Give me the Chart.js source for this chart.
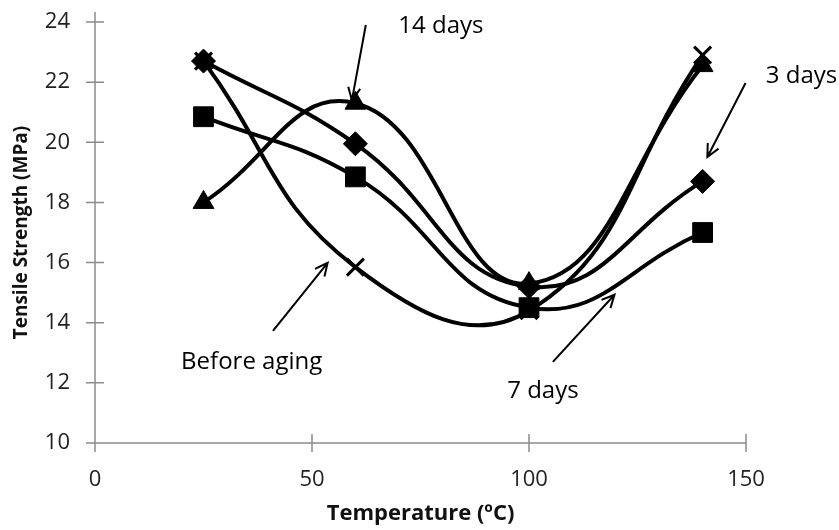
<!DOCTYPE html>
<html>
<head>
<meta charset="utf-8">
<title>Tensile Strength vs Temperature</title>
<script src="https://cdn.jsdelivr.net/npm/chart.js@4.4.1/dist/chart.umd.min.js"></script>
<style>
  html, body { margin: 0; padding: 0; background: #fff; }
  canvas { display: block; }
</style>
</head>
<body>
<canvas id="tensileChart" width="839" height="530"></canvas>
<script>
// Data
const temps = [25, 60, 100, 140];
const beforeAging = [22.7, 15.85, 14.4, 22.9];
const days3 = [22.7, 19.95, 15.2, 18.7];
const days7 = [20.85, 18.85, 14.5, 17.0];
const days14 = [18.0, 21.3, 15.3, 22.55];

const xTicks = [0, 50, 100, 150];
const yTicks = [10, 12, 14, 16, 18, 20, 22, 24];

// Labels with arrows, in data units: [text, textX, textY, fromX, fromY, toX, toY]
const notes = [
  ["14 days", 79.7, 23.63, 62.4, 23.9, 59.2, 21.4],
  ["3 days", 162.8, 21.97, 149.9, 21.97, 141.1, 19.51],
  ["Before aging", 36.1, 12.47, 41.0, 13.73, 53.6, 15.99],
  ["7 days", 103.2, 11.5, 105.5, 12.7, 119.7, 14.93],
];

const font = "'Open Sans', 'DejaVu Sans', sans-serif";

function pairs(ys) {
  return temps.map((t, i) => ({ x: t, y: ys[i] }));
}

function series(label, ys, style, radius, pbw) {
  return {
    label: label,
    data: pairs(ys),
    borderColor: "#000",
    backgroundColor: "#000",
    borderWidth: 4,
    pointStyle: style,
    pointRadius: radius,
    pointBorderWidth: pbw,
    pointBackgroundColor: "#000",
    pointBorderColor: "#000",
    tension: 0.45,
    fill: false,
  };
}

// Axis lines and crossing tick marks like the original
const axesPlugin = {
  id: "axesPlugin",
  beforeDatasetsDraw(chart) {
    const { ctx, scales } = chart;
    const x = scales.x, y = scales.y;
    const x0 = x.getPixelForValue(0);
    const y0 = y.getPixelForValue(10);
    ctx.save();
    ctx.strokeStyle = "#8c8c8c";
    ctx.lineWidth = 1.5;
    ctx.beginPath();
    ctx.moveTo(x0, y.getPixelForValue(24) - 10);
    ctx.lineTo(x0, y0 + 9);
    ctx.moveTo(x0 - 9, y0);
    ctx.lineTo(x.getPixelForValue(150), y0);
    yTicks.slice(1).forEach((v) => {
      const py = y.getPixelForValue(v);
      ctx.moveTo(x0 - 9, py);
      ctx.lineTo(x0 + 9, py);
    });
    xTicks.slice(1).forEach((v) => {
      const px = x.getPixelForValue(v);
      ctx.moveTo(px, y0 - 9);
      ctx.lineTo(px, y0 + 9);
    });
    ctx.stroke();
    ctx.restore();
  },
  afterDraw(chart) {
    const { ctx, scales } = chart;
    const x = scales.x, y = scales.y;
    ctx.save();
    ctx.fillStyle = "#000";
    ctx.strokeStyle = "#000";
    ctx.lineWidth = 2;
    ctx.font = "24px " + font;
    ctx.textAlign = "center";
    ctx.textBaseline = "alphabetic";
    notes.forEach((n) => {
      ctx.fillText(n[0], x.getPixelForValue(n[1]), y.getPixelForValue(n[2]));
      const ax = x.getPixelForValue(n[3]), ay = y.getPixelForValue(n[4]);
      const bx = x.getPixelForValue(n[5]), by = y.getPixelForValue(n[6]);
      const ang = Math.atan2(by - ay, bx - ax);
      const head = 14, spread = 0.45;
      ctx.beginPath();
      ctx.moveTo(ax, ay);
      ctx.lineTo(bx, by);
      ctx.moveTo(bx - head * Math.cos(ang - spread), by - head * Math.sin(ang - spread));
      ctx.lineTo(bx, by);
      ctx.lineTo(bx - head * Math.cos(ang + spread), by - head * Math.sin(ang + spread));
      ctx.stroke();
    });
    ctx.restore();
  },
};

const ctx = document.getElementById("tensileChart").getContext("2d");
new Chart(ctx, {
  type: "line",
  data: {
    datasets: [
      series("Before aging", beforeAging, "crossRot", 12, 3),
      series("3 days", days3, "rectRot", 12, 1),
      series("7 days", days7, "rect", 14, 1),
      series("14 days", days14, "triangle", 12, 1),
    ],
  },
  options: {
    responsive: false,
    animation: false,
    devicePixelRatio: 1,
    layout: { padding: { top: 22, right: 93, left: 0, bottom: 0 } },
    plugins: {
      legend: { display: false },
      tooltip: { enabled: false },
    },
    scales: {
      x: {
        type: "linear",
        min: 0,
        max: 150,
        afterFit: (s) => { s.height = 87; },
        afterBuildTicks: (s) => { s.ticks = xTicks.map((v) => ({ value: v })); },
        ticks: { font: { family: font, size: 22 }, color: "#222", padding: 0 },
        grid: {
          display: true,
          drawOnChartArea: false,
          drawTicks: true,
          tickLength: 24,
          tickColor: "rgba(0,0,0,0)",
        },
        border: { display: false },
        title: {
          display: true,
          text: "Temperature (ºC)",
          font: { family: font, size: 22, weight: "bold" },
          color: "#111",
          padding: { top: 0, bottom: 3 },
        },
      },
      y: {
        min: 10,
        max: 24,
        afterFit: (s) => { s.width = 95; },
        afterBuildTicks: (s) => { s.ticks = yTicks.map((v) => ({ value: v })); },
        ticks: { font: { family: font, size: 22 }, color: "#222", padding: 0 },
        grid: {
          display: true,
          drawOnChartArea: false,
          drawTicks: true,
          tickLength: 25,
          tickColor: "rgba(0,0,0,0)",
        },
        border: { display: false },
        title: {
          display: true,
          text: "Tensile Strength (MPa)",
          font: { family: font, size: 19, weight: "bold" },
          color: "#111",
          padding: { top: 10, bottom: 0 },
        },
      },
    },
  },
  plugins: [axesPlugin],
});
</script>
</body>
</html>
